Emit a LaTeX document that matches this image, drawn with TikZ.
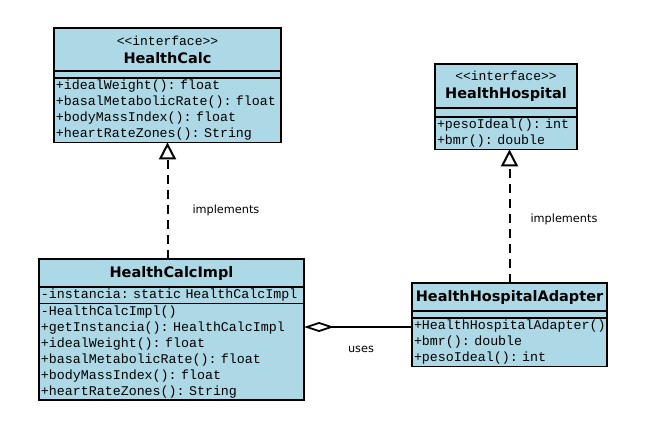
\documentclass[tikz,border=0pt]{standalone}
\usepackage{fontspec}
\setmainfont{DejaVu Sans}
\setmonofont{Liberation Mono}
\usepackage{xcolor}
\usepackage{tikz}
\usetikzlibrary{arrows.meta,positioning}
\definecolor{classblue}{RGB}{173,216,230}
\tikzset{
  cls/.style={draw, fill=classblue, line width=1.6pt, anchor=north west, outer sep=0pt, inner xsep=2pt, inner ysep=2pt},
  clsname/.style={cls, align=center, font=\fontsize{14.5}{18}\selectfont\bfseries},
  clsgap/.style={cls, inner sep=0pt},
  clsbody/.style={cls, align=left, font=\fontsize{13.3}{16}\selectfont\ttfamily},
  realize/.style={line width=2pt, dash pattern=on 9pt off 6pt, -{Triangle[open, width=17pt, length=17pt]}},
  aggr/.style={line width=1.8pt, -{Diamond[open, width=10pt, length=30pt]}},
  lbl/.style={font=\fontsize{11.3}{13}\selectfont}
}
\begin{document}
\begin{tikzpicture}[x=1pt, y=-1pt]
            \useasboundingbox [fill=white] (0,0) rectangle (646,433);
            \node [clsname, minimum width=227, minimum height=43] (calcT) at (54,28) {{\fontsize{13}{14}\selectfont\ttfamily\mdseries <{}<interface>{}>}\\HealthCalc};
            \node [clsgap, minimum width=227, minimum height=7] (calcG) at (calcT.south west) {};
            \node [clsbody, text width=223] (calcM) at (calcG.south west) {+idealWeight():~float\\+basalMetabolicRate():~float\\+bodyMassIndex():~float\\+heartRateZones():~String};
            \node [clsname, minimum width=265, minimum height=28] (implT) at (39,259) {HealthCalcImpl};
            \node [clsbody, text width=261] (implA) at (implT.south west) {-instancia:~static~HealthCalcImpl};
            \node [clsbody, text width=261] (implM) at (implA.south west) {-HealthCalcImpl()\\+getInstancia():~HealthCalcImpl\\+idealWeight():~float\\+basalMetabolicRate():~float\\+bodyMassIndex():~float\\+heartRateZones():~String};
            \node [clsname, minimum width=142, minimum height=44] (hospT) at (435,64) {{\fontsize{13}{14}\selectfont\ttfamily\mdseries <{}<interface>{}>}\\HealthHospital};
            \node [clsgap, minimum width=142, minimum height=9] (hospG) at (hospT.south west) {};
            \node [clsbody, text width=138] (hospM) at (hospG.south west) {+pesoIdeal():~int\\+bmr():~double};
            \node [clsname, minimum width=195, minimum height=28] (adaptT) at (412,283) {HealthHospitalAdapter};
            \node [clsgap, minimum width=195, minimum height=7] (adaptG) at (adaptT.south west) {};
            \node [clsbody, text width=191] (adaptM) at (adaptG.south west) {+HealthHospitalAdapter()\\+bmr():~double\\+pesoIdeal():~int};
            \coordinate (usesR) at ([yshift=-9pt]adaptM.north west);
            \draw [realize] (calcM.south |- implT.north) -- (calcM.south);
            \draw [realize] (adaptT.north) -- (adaptT.north |- hospM.south);
            \draw [aggr] (usesR) -- (usesR -| implM.east);
            \node [lbl, right] (implLeft) at (189,210) {implements};
            \node [lbl, right] (implRight) at (527,219) {implements};
            \node [lbl] (usesL) at (361,349) {uses};
        \end{tikzpicture}
\end{document}
